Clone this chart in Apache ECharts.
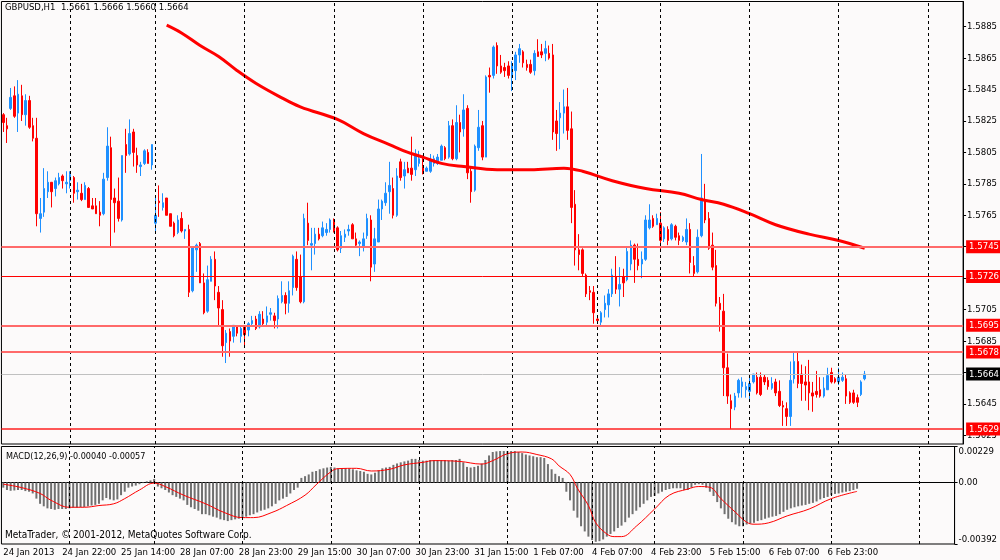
<!DOCTYPE html>
<html>
<head>
<meta charset="utf-8">
<style>
html, body { margin: 0; padding: 0; background: #fcfafa; }
#chart { width: 1000px; height: 560px; }
</style>
<script src="https://cdn.jsdelivr.net/npm/echarts@6/dist/echarts.min.js"></script>
</head>
<body>
<div id="chart"></div>
<script>
// GBPUSD H1 bars, oldest first
var opens = [
  1.5829,1.5822,1.5833,1.5841,1.5830,1.5841,1.5829,1.5838,1.5822,1.5814,
  1.5763,1.5767,1.5780,1.5786,1.5782,1.5785,1.5790,1.5785,1.5787,1.5789,
  1.5780,1.5779,1.5775,1.5782,1.5771,1.5771,1.5767,1.5766,1.5789,1.5808,
  1.5776,1.5774,1.5762,1.5810,1.5804,1.5818,1.5803,1.5796,1.5798,1.5805,
  1.5797,1.5760,1.5774,1.5770,1.5776,1.5766,1.5760,1.5754,1.5763,1.5755,
  1.5756,1.5717,1.5743,1.5747,1.5722,1.5704,1.5723,1.5737,1.5716,1.5705,
  1.5684,1.5691,1.5688,1.5694,1.5688,1.5694,1.5692,1.5696,1.5699,1.5694,
  1.5699,1.5697,1.5702,1.5701,1.5699,1.5710,1.5714,1.5709,1.5719,1.5737,
  1.5726,1.5710,1.5760,1.5746,1.5747,1.5753,1.5752,1.5754,1.5756,1.5761,
  1.5757,1.5744,1.5751,1.5755,1.5759,1.5750,1.5747,1.5745,1.5752,1.5762,
  1.5734,1.5748,1.5769,1.5773,1.5780,1.5782,1.5765,1.5799,1.5790,1.5795,
  1.5795,1.5794,1.5798,1.5796,1.5793,1.5793,1.5798,1.5798,1.5800,1.5808,
  1.5802,1.5822,1.5801,1.5824,1.5820,1.5833,1.5793,1.5781,1.5808,1.5822,
  1.5802,1.5854,1.5854,1.5873,1.5860,1.5859,1.5860,1.5853,1.5857,1.5867,
  1.5869,1.5861,1.5861,1.5857,1.5869,1.5869,1.5868,1.5868,1.5867,1.5825,
  1.5827,1.5830,1.5834,1.5820,1.5772,1.5743,1.5743,1.5727,1.5717,1.5716,
  1.5699,1.5697,1.5705,1.5708,1.5715,1.5726,1.5718,1.5726,1.5724,1.5734,
  1.5746,1.5737,1.5734,1.5737,1.5757,1.5763,1.5759,1.5760,1.5750,1.5756,
  1.5750,1.5758,1.5752,1.5749,1.5748,1.5756,1.5733,1.5729,1.5752,1.5775,
  1.5763,1.5746,1.5733,1.5709,1.5704,1.5668,1.5647,1.5643,1.5652,1.5656,
  1.5654,1.5653,1.5659,1.5662,1.5662,1.5662,1.5660,1.5655,1.5659,1.5653,
  1.5644,1.5642,1.5637,1.5661,1.5672,1.5664,1.5659,1.5659,1.5652,1.5653,
  1.5654,1.5650,1.5654,1.5665,1.5661,1.5659,1.5660,1.5661,1.5652,1.5652,
  1.5649,1.5651,1.5661
];
var highs = [
  1.5830,1.5827,1.5846,1.5847,1.5851,1.5848,1.5842,1.5841,1.5827,1.5827,
  1.5776,1.5795,1.5793,1.5786,1.5789,1.5792,1.5791,1.5793,1.5793,1.5790,
  1.5786,1.5785,1.5786,1.5783,1.5776,1.5776,1.5774,1.5792,1.5821,1.5815,
  1.5782,1.5789,1.5803,1.5820,1.5826,1.5820,1.5808,1.5799,1.5807,1.5807,
  1.5810,1.5776,1.5784,1.5779,1.5776,1.5766,1.5761,1.5765,1.5767,1.5756,
  1.5759,1.5745,1.5747,1.5748,1.5728,1.5733,1.5739,1.5742,1.5720,1.5711,
  1.5692,1.5693,1.5695,1.5695,1.5694,1.5695,1.5697,1.5701,1.5701,1.5704,
  1.5704,1.5707,1.5706,1.5703,1.5714,1.5723,1.5716,1.5723,1.5740,1.5742,
  1.5740,1.5766,1.5773,1.5757,1.5757,1.5757,1.5761,1.5760,1.5763,1.5763,
  1.5758,1.5755,1.5756,1.5759,1.5760,1.5754,1.5749,1.5754,1.5766,1.5765,
  1.5757,1.5775,1.5775,1.5786,1.5799,1.5789,1.5795,1.5801,1.5799,1.5799,
  1.5815,1.5807,1.5806,1.5803,1.5796,1.5804,1.5803,1.5804,1.5810,1.5809,
  1.5825,1.5826,1.5835,1.5829,1.5842,1.5835,1.5796,1.5810,1.5832,1.5825,
  1.5854,1.5859,1.5873,1.5875,1.5867,1.5862,1.5863,1.5863,1.5869,1.5874,
  1.5870,1.5864,1.5864,1.5870,1.5877,1.5874,1.5876,1.5873,1.5874,1.5832,
  1.5837,1.5845,1.5846,1.5831,1.5781,1.5753,1.5744,1.5728,1.5720,1.5720,
  1.5701,1.5704,1.5714,1.5718,1.5731,1.5739,1.5732,1.5731,1.5745,1.5749,
  1.5747,1.5747,1.5742,1.5765,1.5772,1.5765,1.5766,1.5767,1.5758,1.5758,
  1.5760,1.5759,1.5754,1.5752,1.5763,1.5760,1.5739,1.5756,1.5804,1.5785,
  1.5767,1.5754,1.5743,1.5713,1.5715,1.5677,1.5651,1.5652,1.5661,1.5662,
  1.5659,1.5664,1.5664,1.5665,1.5665,1.5664,1.5662,1.5662,1.5661,1.5660,
  1.5647,1.5646,1.5672,1.5678,1.5678,1.5670,1.5669,1.5673,1.5659,1.5666,
  1.5662,1.5662,1.5668,1.5668,1.5662,1.5668,1.5665,1.5664,1.5653,1.5654,
  1.5651,1.5660,1.5666
];
var lows = [
  1.5818,1.5811,1.5832,1.5827,1.5818,1.5825,1.5822,1.5820,1.5812,1.5758,
  1.5754,1.5764,1.5776,1.5770,1.5777,1.5784,1.5782,1.5779,1.5782,1.5773,
  1.5775,1.5774,1.5775,1.5770,1.5769,1.5766,1.5758,1.5765,1.5787,1.5745,
  1.5754,1.5761,1.5761,1.5792,1.5803,1.5796,1.5792,1.5790,1.5797,1.5798,
  1.5794,1.5755,1.5764,1.5768,1.5765,1.5758,1.5751,1.5753,1.5754,1.5750,
  1.5713,1.5716,1.5729,1.5722,1.5702,1.5703,1.5723,1.5711,1.5695,1.5675,
  1.5671,1.5675,1.5684,1.5688,1.5684,1.5682,1.5688,1.5694,1.5692,1.5693,
  1.5695,1.5695,1.5698,1.5693,1.5693,1.5709,1.5702,1.5703,1.5714,1.5717,
  1.5709,1.5709,1.5746,1.5730,1.5740,1.5749,1.5751,1.5752,1.5754,1.5754,
  1.5742,1.5741,1.5748,1.5752,1.5750,1.5745,1.5739,1.5742,1.5750,1.5723,
  1.5729,1.5748,1.5762,1.5771,1.5766,1.5763,1.5764,1.5787,1.5782,1.5792,
  1.5787,1.5790,1.5796,1.5791,1.5793,1.5792,1.5796,1.5797,1.5800,1.5800,
  1.5801,1.5800,1.5800,1.5805,1.5815,1.5788,1.5773,1.5780,1.5806,1.5800,
  1.5802,1.5843,1.5852,1.5855,1.5855,1.5853,1.5852,1.5844,1.5851,1.5862,
  1.5859,1.5857,1.5855,1.5854,1.5866,1.5865,1.5863,1.5864,1.5813,1.5806,
  1.5807,1.5817,1.5813,1.5760,1.5733,1.5730,1.5726,1.5713,1.5711,1.5696,
  1.5696,1.5694,1.5700,1.5700,1.5713,1.5715,1.5707,1.5713,1.5723,1.5730,
  1.5722,1.5730,1.5725,1.5736,1.5756,1.5757,1.5759,1.5743,1.5748,1.5746,
  1.5749,1.5749,1.5746,1.5748,1.5746,1.5728,1.5726,1.5728,1.5751,1.5760,
  1.5743,1.5730,1.5707,1.5691,1.5650,1.5645,1.5629,1.5641,1.5649,1.5649,
  1.5649,1.5648,1.5658,1.5651,1.5650,1.5657,1.5654,1.5654,1.5650,1.5643,
  1.5631,1.5631,1.5631,1.5658,1.5655,1.5647,1.5647,1.5641,1.5640,1.5649,
  1.5649,1.5649,1.5654,1.5658,1.5658,1.5657,1.5659,1.5645,1.5645,1.5645,
  1.5643,1.5650,1.5660
];
var closes = [
  1.5824,1.5820,1.5840,1.5828,1.5842,1.5829,1.5838,1.5821,1.5814,1.5766,
  1.5766,1.5782,1.5786,1.5780,1.5787,1.5789,1.5787,1.5786,1.5791,1.5779,
  1.5781,1.5775,1.5784,1.5770,1.5769,1.5766,1.5765,1.5788,1.5809,1.5775,
  1.5773,1.5763,1.5803,1.5803,1.5817,1.5805,1.5797,1.5797,1.5806,1.5798,
  1.5810,1.5765,1.5773,1.5773,1.5765,1.5758,1.5752,1.5762,1.5755,1.5756,
  1.5716,1.5745,1.5746,1.5722,1.5703,1.5724,1.5737,1.5720,1.5706,1.5682,
  1.5690,1.5685,1.5695,1.5690,1.5693,1.5689,1.5696,1.5698,1.5693,1.5702,
  1.5696,1.5701,1.5703,1.5698,1.5712,1.5714,1.5709,1.5717,1.5739,1.5719,
  1.5710,1.5763,1.5749,1.5747,1.5753,1.5750,1.5757,1.5756,1.5762,1.5755,
  1.5743,1.5752,1.5753,1.5756,1.5750,1.5746,1.5748,1.5750,1.5763,1.5732,
  1.5750,1.5769,1.5774,1.5779,1.5784,1.5765,1.5790,1.5789,1.5794,1.5792,
  1.5791,1.5804,1.5801,1.5792,1.5795,1.5800,1.5801,1.5802,1.5809,1.5801,
  1.5822,1.5801,1.5824,1.5818,1.5832,1.5792,1.5780,1.5809,1.5821,1.5802,
  1.5853,1.5853,1.5872,1.5860,1.5856,1.5857,1.5854,1.5860,1.5867,1.5871,
  1.5862,1.5859,1.5856,1.5868,1.5866,1.5867,1.5871,1.5865,1.5818,1.5817,
  1.5830,1.5834,1.5819,1.5770,1.5743,1.5740,1.5728,1.5715,1.5716,1.5703,
  1.5698,1.5703,1.5709,1.5715,1.5727,1.5718,1.5721,1.5722,1.5742,1.5746,
  1.5737,1.5733,1.5737,1.5762,1.5762,1.5758,1.5763,1.5749,1.5757,1.5749,
  1.5759,1.5751,1.5749,1.5751,1.5756,1.5735,1.5728,1.5751,1.5776,1.5762,
  1.5744,1.5732,1.5709,1.5705,1.5668,1.5650,1.5642,1.5650,1.5660,1.5659,
  1.5656,1.5658,1.5664,1.5652,1.5651,1.5659,1.5656,1.5658,1.5652,1.5644,
  1.5643,1.5637,1.5660,1.5672,1.5658,1.5658,1.5657,1.5652,1.5650,1.5651,
  1.5650,1.5655,1.5663,1.5659,1.5659,1.5662,1.5662,1.5650,1.5646,1.5646,
  1.5646,1.5659,1.5664
];

// red moving average, read at a few bars
var maBars   = [44, 48, 53, 58, 63, 68, 74, 80, 90, 97, 104, 109, 113, 118, 124, 133, 142, 151, 156, 164, 173, 182, 188, 194, 201, 208, 217, 225, 232];
var maValues = [1.5886, 1.5881, 1.5873, 1.5866, 1.5857, 1.5849, 1.5841, 1.5834, 1.5826, 1.5817, 1.5810, 1.5805, 1.5802, 1.5798, 1.5796, 1.5794, 1.5794, 1.5795, 1.5793, 1.5787, 1.5782, 1.5779, 1.5775, 1.5772, 1.5766, 1.5759, 1.5753, 1.5749, 1.5744];

// MACD(12,26,9) main histogram, one per bar
var macdMain = [
  -0.00033,-0.00048,-0.00053,-0.00051,-0.00048,-0.00048,-0.00055,-0.00059,-0.00070,-0.00103,
  -0.00136,-0.00152,-0.00165,-0.00169,-0.00174,-0.00169,-0.00169,-0.00169,-0.00165,-0.00161,
  -0.00161,-0.00158,-0.00156,-0.00152,-0.00147,-0.00143,-0.00136,-0.00114,-0.00099,-0.00108,
  -0.00114,-0.00108,-0.00081,-0.00059,-0.00033,-0.00026,-0.00020,-0.00011,-0.00004,0.00007,
  0.00013,0.00022,-0.00026,-0.00037,-0.00048,-0.00064,-0.00081,-0.00092,-0.00103,-0.00114,
  -0.00143,-0.00158,-0.00169,-0.00180,-0.00202,-0.00202,-0.00209,-0.00218,-0.00224,-0.00235,
  -0.00240,-0.00246,-0.00240,-0.00235,-0.00231,-0.00224,-0.00218,-0.00209,-0.00202,-0.00191,
  -0.00180,-0.00174,-0.00165,-0.00152,-0.00136,-0.00114,-0.00103,-0.00092,-0.00070,-0.00048,
  -0.00033,0.00029,0.00040,0.00051,0.00068,0.00073,0.00084,0.00090,0.00095,0.00099,
  0.00095,0.00090,0.00090,0.00090,0.00088,0.00084,0.00077,0.00073,0.00068,0.00055,
  0.00051,0.00062,0.00077,0.00090,0.00095,0.00099,0.00112,0.00121,0.00128,0.00134,
  0.00139,0.00150,0.00150,0.00143,0.00139,0.00139,0.00143,0.00143,0.00143,0.00143,
  0.00143,0.00139,0.00143,0.00143,0.00150,0.00128,0.00099,0.00095,0.00099,0.00106,
  0.00121,0.00143,0.00172,0.00194,0.00198,0.00200,0.00200,0.00200,0.00200,0.00200,
  0.00194,0.00187,0.00178,0.00172,0.00167,0.00161,0.00161,0.00156,0.00117,0.00084,
  0.00055,0.00040,0.00029,-0.00059,-0.00114,-0.00180,-0.00224,-0.00279,-0.00312,-0.00345,
  -0.00367,-0.00378,-0.00374,-0.00363,-0.00345,-0.00328,-0.00312,-0.00290,-0.00275,-0.00253,
  -0.00224,-0.00202,-0.00180,-0.00158,-0.00136,-0.00114,-0.00092,-0.00086,-0.00070,-0.00059,
  -0.00048,-0.00042,-0.00037,-0.00037,-0.00037,-0.00048,-0.00048,-0.00033,-0.00015,-0.00011,
  -0.00015,-0.00033,-0.00059,-0.00086,-0.00125,-0.00165,-0.00202,-0.00231,-0.00253,-0.00268,
  -0.00279,-0.00279,-0.00268,-0.00262,-0.00257,-0.00246,-0.00240,-0.00231,-0.00224,-0.00218,
  -0.00213,-0.00202,-0.00187,-0.00174,-0.00165,-0.00158,-0.00152,-0.00147,-0.00143,-0.00136,
  -0.00130,-0.00121,-0.00108,-0.00099,-0.00092,-0.00081,-0.00073,-0.00070,-0.00064,-0.00059,
  -0.00055,-0.00048,-0.00040
];
// MACD signal line, read at a few bars
var signalBars   = [0, 5, 10, 13, 18, 22, 26, 30, 33, 37, 41, 44, 49, 55, 60, 65, 68, 73, 77, 82, 85, 89, 91, 96, 100, 105, 109, 114, 117, 124, 130, 133, 137, 141, 145, 149, 151, 154, 156, 159, 161, 164, 166, 168, 172, 177, 181, 186, 189, 192, 195, 199, 202, 204, 208, 213, 219, 225, 232];
var signalValues = [-0.00011, -0.00033, -0.00070, -0.00114, -0.00158, -0.00158, -0.00147, -0.00136, -0.00103, -0.00048, -0.00004, -0.00026, -0.00081, -0.00136, -0.00191, -0.00224, -0.00224, -0.00191, -0.00147, -0.00081, -0.00015, 0.00068, 0.00088, 0.00090, 0.00073, 0.00084, 0.00112, 0.00128, 0.00139, 0.00134, 0.00117, 0.00139, 0.00183, 0.00194, 0.00178, 0.00150, 0.00106, 0.00051, -0.00037, -0.00147, -0.00257, -0.00328, -0.00345, -0.00345, -0.00279, -0.00169, -0.00081, -0.00042, -0.00026, -0.00031, -0.00103, -0.00191, -0.00253, -0.00266, -0.00257, -0.00213, -0.00169, -0.00103, -0.00057];

// horizontal levels and the bid line
var levels = [1.5745, 1.5726, 1.5695, 1.5678, 1.5629];
var bidPrice = 1.5664;

// axis labels
var priceTicks = [1.5885, 1.5865, 1.5845, 1.5825, 1.5805, 1.5785, 1.5765, 1.5745, 1.5725, 1.5705, 1.5685, 1.5665, 1.5645, 1.5625];
var macdTicks = [0.00229, 0, -0.00392];
var timeLabels = ["24 Jan 2013", "24 Jan 22:00", "25 Jan 14:00", "28 Jan 07:00", "28 Jan 23:00", "29 Jan 15:00", "30 Jan 07:00", "30 Jan 23:00", "31 Jan 15:00", "1 Feb 07:00", "4 Feb 07:00", "4 Feb 23:00", "5 Feb 15:00", "6 Feb 07:00", "6 Feb 23:00"];
var daySeparators = [18, 41, 65, 89, 113, 137, 160, 177, 201, 225, 249];

var SLOTS = 259;       // bar slots across the window (right shift included)
var LABEL_STEP = 16;   // bars between time labels
var FONT = 'Tahoma, "DejaVu Sans Condensed", "Liberation Sans", sans-serif';

var slots = [];
for (var i = 0; i < SLOTS; i++) slots.push(String(i));

var candles = opens.map(function (o, i) {
  return [o, closes[i], lows[i], highs[i]];
});
var maData = maBars.map(function (b, i) { return [b, maValues[i]]; });
var signalData = signalBars.map(function (b, i) { return [b, signalValues[i]]; });

// pinkish 2px vs plain red 1px, as on the chart
var levelStyle = [
  { color: "#ff6a6a", width: 2 },
  { color: "#ff0000", width: 1 },
  { color: "#ff6a6a", width: 2 },
  { color: "#ff6a6a", width: 2 },
  { color: "#ff2020", width: 1.5 }
];

var dashStyle = { color: "#000", width: 1, type: [3, 3] };
function dayLines() {
  return daySeparators.map(function (b) {
    return { xAxis: b, lineStyle: dashStyle, label: { show: false } };
  });
}

function boxLabel(v, bg) {
  return {
    show: true, position: "end", distance: 3,
    formatter: v.toFixed(4),
    color: "#fff", backgroundColor: bg,
    fontFamily: FONT, fontSize: 9.5, padding: [2, 3, 1, 3]
  };
}

var priceLines = [{
  yAxis: bidPrice,
  lineStyle: { color: "#c0c0c0", width: 1, type: "solid" },
  label: boxLabel(bidPrice, "#000")
}];
levels.forEach(function (v, i) {
  priceLines.push({
    yAxis: v,
    lineStyle: { color: levelStyle[i].color, width: levelStyle[i].width, type: "solid" },
    label: boxLabel(v, "#ff0000")
  });
});

var chart = echarts.init(document.getElementById("chart"), null, { renderer: "canvas" });

var gridLeft = 1.44, gridWidth = 963.5;

function labelBar(idx) {
  return idx % LABEL_STEP === 0 && idx / LABEL_STEP < timeLabels.length;
}

var option = {
  backgroundColor: "#fcfafa",
  animation: false,
  textStyle: { fontFamily: FONT },
  grid: [
    { left: gridLeft, top: 1.5, width: gridWidth, height: 442.5, show: true, borderColor: "#000", borderWidth: 1, backgroundColor: "transparent" },
    { left: gridLeft, top: 446.5, width: gridWidth, height: 97.5, show: true, borderColor: "#000", borderWidth: 1, backgroundColor: "transparent" }
  ],
  xAxis: [
    { type: "category", gridIndex: 0, data: slots, boundaryGap: true, show: false },
    {
      type: "category", gridIndex: 1, data: slots, boundaryGap: true,
      axisLine: { lineStyle: { color: "#000", width: 1 } },
      axisTick: { length: 3, lineStyle: { color: "#000" }, interval: labelBar },
      axisLabel: {
        color: "#000", fontSize: 9.5, fontFamily: FONT, margin: 4, align: "left",
        interval: labelBar,
        formatter: function (v, idx) { return timeLabels[Math.round(idx / LABEL_STEP)] || ""; }
      },
      splitLine: { show: false }
    }
  ],
  yAxis: [
    {
      type: "value", gridIndex: 0, position: "right", min: 1.56195, max: 1.5901, scale: true,
      axisLine: { show: true, lineStyle: { color: "#000" } },
      axisTick: { show: true, length: 3, lineStyle: { color: "#000" }, customValues: priceTicks },
      axisLabel: {
        color: "#000", fontSize: 9.5, fontFamily: FONT, margin: 4, customValues: priceTicks,
        formatter: function (v) { return v.toFixed(4); }
      },
      splitLine: { show: false }
    },
    {
      type: "value", gridIndex: 1, position: "right", min: -0.00392, max: 0.00229,
      axisLine: { show: true, lineStyle: { color: "#000" } },
      axisTick: { show: true, length: 3, lineStyle: { color: "#000" }, customValues: macdTicks },
      axisLabel: {
        color: "#000", fontSize: 9.5, fontFamily: FONT, margin: 4, customValues: macdTicks,
        formatter: function (v) {
          if (v === 0) return "0.00";
          return v > 0 ? "{top|" + v.toFixed(5) + "}" : "{bot|" + v.toFixed(5) + "}";
        },
        rich: {
          top: { fontSize: 9.5, fontFamily: FONT, color: "#000", padding: [10, 0, 0, 0] },
          bot: { fontSize: 9.5, fontFamily: FONT, color: "#000", padding: [0, 0, 8, 0] }
        }
      },
      splitLine: { show: false }
    }
  ],
  series: [
    {
      name: "GBPUSD", type: "candlestick", xAxisIndex: 0, yAxisIndex: 0,
      data: candles, barWidth: 2,
      itemStyle: { color: "#1e90ff", color0: "#ff0000", borderColor: "#1e90ff", borderColor0: "#ff0000", borderWidth: 1 },
      markLine: {
        silent: true, symbol: ["none", "none"], animation: false,
        data: dayLines()
      }
    },
    {
      name: "MA", type: "line", xAxisIndex: 0, yAxisIndex: 0,
      data: maData, smooth: 0.4, symbol: "none",
      lineStyle: { color: "#ff0000", width: 3 }, z: 3,
      markLine: {
        silent: true, symbol: ["none", "none"], animation: false, precision: 5,
        data: priceLines
      }
    },
    {
      name: "MACD", type: "bar", xAxisIndex: 1, yAxisIndex: 1,
      data: macdMain, barWidth: 2,
      itemStyle: { color: "#707070" },
      markLine: {
        silent: true, symbol: ["none", "none"], animation: false,
        data: dayLines()
      }
    },
    {
      name: "Signal", type: "line", xAxisIndex: 1, yAxisIndex: 1,
      data: signalData, smooth: 0.4, symbol: "none",
      lineStyle: { color: "#ff0000", width: 1 }, z: 3
    }
  ],
  graphic: [
    { type: "text", left: 5, top: 3, z: 10, style: { text: "GBPUSD,H1  1.5661 1.5666 1.5660 1.5664", fill: "#000", font: "9.5px " + FONT } },
    { type: "text", left: 6, top: 452, z: 10, style: { text: "MACD(12,26,9) -0.00040 -0.00057", fill: "#000", font: "9px " + FONT } },
    { type: "text", left: 5, top: 530, z: 10, style: { text: "MetaTrader, \u00a9 2001-2012, MetaQuotes Software Corp.", fill: "#000", font: "10px " + FONT } }
  ]
};

chart.setOption(option);
</script>
</body>
</html>
